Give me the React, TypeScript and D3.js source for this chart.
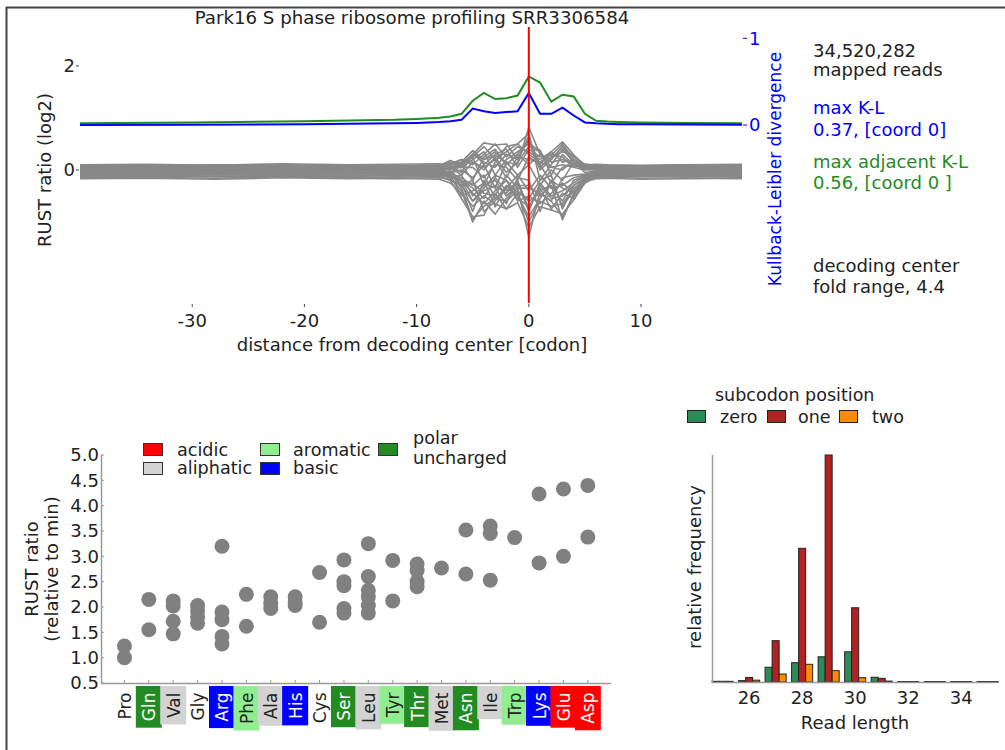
import React, { useMemo } from 'react';
import * as d3 from 'd3';

const FONT = '"DejaVu Sans", "Liberation Sans", sans-serif';
const TXT = '#222222';

// ---------- top panel data ----------
const TITLE = 'Park16 S phase ribosome profiling SRR3306584';
const X_TICKS_TOP = [-30, -20, -10, 0, 10];
const RUST_TICKS = [0, 2];
const KL_TICKS = [0, 1];

const POS = [-40, -34, -28, -22, -16, -12, -8, -7, -6, -5, -4, -3, -2, -1, 0, 1, 2, 3, 4, 5, 6, 7, 10, 14, 19];
const RUST_LINES: number[][] = [
  [0.05, 0.04, 0.06, 0.03, 0.05, 0.04, 0.06, 0.10, 0.15, 0.37, 0.20, 0.28, 0.15, 0.10, 0.82, 0.30, 0.20, 0.45, 0.25, 0.10, 0.06, 0.05, 0.04, 0.05, 0.04],
  [-0.02, -0.03, -0.01, -0.02, -0.04, -0.03, -0.05, -0.15, -0.40, -1.00, -0.60, -0.85, -0.55, -0.35, -1.29, -0.40, -0.30, -0.96, -0.45, -0.20, -0.08, -0.04, -0.03, -0.05, -0.04],
  [0.08, 0.09, 0.07, 0.10, 0.08, 0.07, 0.10, 0.05, 0.12, 0.30, 0.52, 0.48, 0.50, 0.20, 0.60, 0.10, 0.35, 0.54, 0.29, 0.08, 0.05, 0.07, 0.08, 0.06, 0.07],
  [-0.10, -0.12, -0.09, -0.11, -0.13, -0.10, -0.12, -0.20, -0.55, -0.90, -0.87, -0.45, -0.75, -0.63, -1.10, -0.71, -0.77, -0.85, -0.58, -0.25, -0.12, -0.10, -0.11, -0.12, -0.10],
  [0.00, 0.01, -0.01, 0.02, 0.00, 0.01, 0.02, -0.05, 0.10, 0.25, -0.30, 0.15, 0.45, 0.50, 0.70, -0.20, 0.10, 0.40, 0.15, 0.05, 0.02, 0.01, 0.00, 0.01, 0.02],
  [-0.05, -0.06, -0.04, -0.05, -0.07, -0.06, -0.04, -0.10, -0.25, -0.80, -0.20, -0.71, -0.30, -0.50, -0.90, -0.55, -0.20, -0.70, -0.40, -0.15, -0.07, -0.05, -0.06, -0.05, -0.06],
  [0.03, 0.02, 0.04, 0.03, 0.02, 0.03, 0.04, 0.08, 0.05, 0.20, 0.35, -0.10, 0.20, 0.35, 0.50, 0.38, -0.10, 0.30, 0.10, 0.03, 0.02, 0.03, 0.04, 0.02, 0.03],
  [-0.15, -0.14, -0.16, -0.13, -0.15, -0.17, -0.15, -0.18, -0.30, -0.60, -0.40, -0.30, -0.45, -0.20, -0.75, -0.30, -0.55, -0.50, -0.30, -0.18, -0.15, -0.14, -0.16, -0.15, -0.17],
  [0.06, 0.05, 0.07, 0.06, 0.04, 0.05, 0.07, 0.12, 0.20, 0.10, 0.30, 0.50, 0.25, 0.45, 0.35, 0.20, 0.35, 0.15, 0.20, 0.08, 0.06, 0.05, 0.07, 0.08, 0.06],
  [-0.07, -0.08, -0.06, -0.09, -0.07, -0.08, -0.06, -0.12, -0.20, -0.45, -0.65, -0.40, -0.20, -0.60, -0.50, -0.65, -0.45, -0.25, -0.45, -0.22, -0.09, -0.08, -0.07, -0.09, -0.08],
  [0.02, 0.03, 0.01, 0.02, 0.04, 0.02, 0.03, 0.00, 0.15, 0.37, 0.10, 0.30, 0.40, 0.05, 0.40, 0.25, 0.28, 0.50, 0.20, 0.06, 0.03, 0.02, 0.03, 0.02, 0.01],
  [-0.12, -0.11, -0.13, -0.12, -0.10, -0.12, -0.11, -0.05, -0.35, -0.95, -0.70, -0.55, -0.60, -0.40, -0.60, -0.45, -0.60, -0.90, -0.50, -0.20, -0.11, -0.12, -0.13, -0.11, -0.12],
  [0.01, 0.00, 0.02, 0.01, 0.00, -0.01, 0.01, 0.05, -0.10, 0.15, 0.05, 0.20, -0.15, 0.25, 0.20, 0.15, 0.05, 0.10, 0.05, 0.00, 0.01, 0.00, 0.01, 0.02, 0.00],
  [-0.03, -0.04, -0.02, -0.03, -0.05, -0.04, -0.03, -0.08, -0.15, -0.30, -0.10, -0.55, -0.35, -0.10, -0.40, -0.10, -0.35, -0.30, -0.15, -0.10, -0.04, -0.03, -0.04, -0.05, -0.03],
  [0.09, 0.08, 0.10, 0.09, 0.07, 0.08, 0.09, 0.15, 0.05, 0.30, 0.15, 0.05, 0.30, 0.20, 0.65, 0.05, 0.25, 0.35, 0.27, 0.10, 0.08, 0.09, 0.08, 0.10, 0.09],
  [-0.17, -0.16, -0.18, -0.15, -0.17, -0.16, -0.18, -0.25, -0.45, -0.70, -0.50, -0.65, -0.75, -0.45, -1.00, -0.60, -0.70, -0.65, -0.35, -0.22, -0.17, -0.16, -0.18, -0.17, -0.16],
  [0.04, 0.05, 0.03, 0.04, 0.06, 0.05, 0.04, 0.02, 0.10, -0.20, 0.25, 0.40, 0.10, 0.30, 0.10, 0.30, 0.15, 0.20, 0.10, 0.05, 0.04, 0.05, 0.04, 0.03, 0.05],
  [-0.09, -0.10, -0.08, -0.09, -0.11, -0.09, -0.10, -0.15, -0.10, -0.50, -0.30, -0.20, -0.50, -0.30, -0.30, -0.50, -0.30, -0.60, -0.20, -0.12, -0.10, -0.09, -0.10, -0.11, -0.09],
  [0.00, -0.01, 0.01, 0.00, -0.02, 0.00, -0.01, 0.03, 0.05, 0.05, -0.15, 0.10, 0.05, -0.20, 0.25, 0.10, -0.25, 0.05, 0.10, 0.02, 0.00, -0.01, 0.00, -0.01, 0.01],
  [-0.06, -0.05, -0.07, -0.06, -0.04, -0.05, -0.07, -0.12, -0.20, -0.35, -0.55, -0.15, -0.40, -0.25, -0.80, -0.25, -0.50, -0.40, -0.25, -0.12, -0.06, -0.05, -0.06, -0.07, -0.05],
  [0.07, 0.06, 0.08, 0.05, 0.07, 0.06, 0.08, 0.18, 0.10, 0.25, 0.45, 0.20, 0.35, 0.50, 0.30, 0.15, 0.30, 0.25, 0.05, 0.12, 0.07, 0.06, 0.08, 0.07, 0.06],
  [-0.13, -0.14, -0.12, -0.13, -0.15, -0.14, -0.13, -0.20, -0.30, -0.20, -0.80, -0.60, -0.30, -0.55, -0.70, -0.35, -0.75, -0.45, -0.55, -0.25, -0.13, -0.14, -0.12, -0.13, -0.14],
  [-0.01, -0.02, 0.00, -0.01, -0.03, -0.02, -0.02, -0.06, 0.00, -0.15, 0.10, -0.35, 0.15, -0.10, 0.10, -0.30, 0.00, -0.20, 0.15, -0.05, -0.02, -0.01, -0.02, -0.03, -0.01],
  [-0.04, -0.03, -0.05, -0.04, -0.02, -0.03, -0.05, -0.02, -0.20, -0.60, -0.35, -0.10, -0.20, -0.45, -0.55, -0.20, -0.10, -0.75, -0.30, -0.15, -0.05, -0.04, -0.05, -0.04, -0.03],
  [0.05, 0.06, 0.04, 0.05, 0.03, 0.04, 0.05, 0.10, 0.20, 0.15, 0.00, 0.25, -0.05, 0.15, 0.45, 0.35, 0.05, 0.00, 0.20, 0.07, 0.05, 0.04, 0.05, 0.06, 0.04],
  [-0.08, -0.07, -0.09, -0.08, -0.06, -0.07, -0.09, -0.10, -0.50, -0.40, -0.25, -0.35, -0.65, -0.15, -0.20, -0.80, -0.20, -0.35, -0.45, -0.18, -0.08, -0.07, -0.08, -0.09, -0.07],
  [0.10, 0.11, 0.09, 0.12, 0.10, 0.11, 0.12, 0.08, -0.05, 0.30, 0.20, 0.35, 0.10, 0.30, 0.55, 0.00, 0.20, 0.45, 0.15, 0.10, 0.11, 0.10, 0.09, 0.10, 0.11],
  [-0.02, 0.00, -0.03, -0.01, -0.02, 0.00, -0.03, -0.08, -0.30, -0.25, -0.45, -0.50, -0.10, -0.35, -0.35, -0.45, -0.60, -0.15, -0.10, -0.08, -0.03, -0.02, -0.01, -0.02, -0.03],
];

const KL_POS = [-40, -30, -20, -12, -10, -8, -7, -6, -5, -4, -3, -2, -1, 0, 1, 2, 3, 4, 5, 6, 7, 8, 10, 14, 19];
const KL_MAX = [0.0, 0.005, 0.01, 0.02, 0.025, 0.035, 0.045, 0.06, 0.19, 0.16, 0.14, 0.15, 0.16, 0.37, 0.13, 0.13, 0.20, 0.11, 0.03, 0.02, 0.015, 0.01, 0.01, 0.008, 0.005];
const KL_ADJ = [0.02, 0.03, 0.045, 0.06, 0.07, 0.085, 0.10, 0.13, 0.28, 0.37, 0.30, 0.31, 0.34, 0.56, 0.49, 0.27, 0.35, 0.33, 0.13, 0.05, 0.04, 0.035, 0.03, 0.025, 0.02];

// ---------- amino acid panel data ----------
const AMINO = ['Pro', 'Gln', 'Val', 'Gly', 'Arg', 'Phe', 'Ala', 'His', 'Cys', 'Ser', 'Leu', 'Tyr', 'Thr', 'Met', 'Asn', 'Ile', 'Trp', 'Lys', 'Glu', 'Asp'];
const AA_CLASS = ['none', 'polar', 'aliphatic', 'none', 'basic', 'aromatic', 'aliphatic', 'basic', 'none', 'polar', 'aliphatic', 'aromatic', 'polar', 'aliphatic', 'polar', 'aliphatic', 'aromatic', 'basic', 'acidic', 'acidic'];
const AA_VALUES: number[][] = [
  [1.23, 1.0],
  [2.15, 1.55],
  [2.12, 2.02, 1.72, 1.47],
  [2.03, 1.92, 1.8, 1.68],
  [3.2, 1.9, 1.75, 1.42, 1.27],
  [2.25, 1.62],
  [2.2, 2.07, 1.97],
  [2.2, 2.1, 2.03],
  [2.68, 1.7],
  [2.93, 2.5, 2.42, 1.97, 1.88],
  [3.25, 2.6, 2.33, 2.2, 2.03, 1.88],
  [2.92, 2.12],
  [2.85, 2.72, 2.5, 2.4],
  [2.77],
  [3.52, 2.65],
  [3.6, 3.45, 2.53],
  [3.37],
  [4.23, 2.87],
  [4.33, 3.0],
  [4.4, 3.38],
];
const AA_TICKS = [0.5, 1.0, 1.5, 2.0, 2.5, 3.0, 3.5, 4.0, 4.5, 5.0];
const CLASS_COLOR: Record<string, string> = {
  acidic: '#FF0000',
  aliphatic: '#D3D3D3',
  aromatic: '#90EE90',
  basic: '#0000FF',
  polar: '#228B22',
  none: 'none',
};
const CLASS_TEXT: Record<string, string> = {
  acidic: '#FFFFFF', aliphatic: TXT, aromatic: TXT, basic: '#FFFFFF', polar: '#FFFFFF', none: TXT,
};

// ---------- read length panel data ----------
const READ_LEN = [25, 26, 27, 28, 29, 30, 31, 32, 33, 34, 35];
const FRAME_ZERO = [0.003, 0.006, 0.065, 0.085, 0.111, 0.133, 0.021, 0.002, 0.002, 0.002, 0.002];
const FRAME_ONE = [0.003, 0.02, 0.182, 0.589, 1.0, 0.327, 0.016, 0.002, 0.002, 0.002, 0.002];
const FRAME_TWO = [0.003, 0.008, 0.035, 0.078, 0.05, 0.019, 0.004, 0.002, 0.002, 0.002, 0.002];
const LEN_TICKS = [26, 28, 30, 32, 34];
const FRAME_NAMES = ['zero', 'one', 'two'];
const FRAME_COLORS = ['#2E8B57', '#B22222', '#FF8C00'];

function useMeasure() {
  return useMemo(() => {
    const ctx = document.createElement('canvas').getContext('2d');
    return (t: string, size: number) => {
      if (!ctx) return t.length * size * 0.6;
      ctx.font = `${size}px "DejaVu Sans"`;
      return ctx.measureText(t).width;
    };
  }, []);
}

export default function App() {
  const measure = useMeasure();

  // top panel scales
  const xTop = d3.scaleLinear().domain([-40, 19]).range([80, 742]);
  const yRust = d3.scaleLinear().domain([-2.56, 2.75]).range([303, 27]);
  const yKL = d3.scaleLinear().domain([-2.05, 1.13]).range([303, 27]);
  const rustLine = d3.line<number>().x((_, i) => xTop(POS[i])).y((d) => yRust(d));
  const klLine = d3.line<number>().x((_, i) => xTop(KL_POS[i])).y((d) => yKL(d));

  // scatter scales
  const xS = d3.scaleLinear().domain([-0.92, 19.95]).range([102, 611]);
  const yS = d3.scaleLinear().domain([0.5, 5.0]).range([683, 455]);

  // histogram scales
  const xH = d3.scaleLinear().domain([24.6, 35.35]).range([712, 997]);
  const yH = d3.scaleLinear().domain([0, 1]).range([682, 455]);
  const frames = [FRAME_ZERO, FRAME_ONE, FRAME_TWO];
  const bw = 0.265;

  const fs = 18;
  const lfs = 17;

  return (
    <svg width={1005} height={750} style={{ position: 'absolute', left: 0, top: 0, background: '#fff' }} fontFamily={FONT}>
      <rect x={0} y={0} width={1005} height={750} fill="#fff" />
      {/* frame */}
      <line x1={6} y1={7.5} x2={1005} y2={7.5} stroke="#444" strokeWidth={2} />
      <line x1={6.5} y1={7} x2={6.5} y2={750} stroke="#444" strokeWidth={2} />

      {/* ===== top panel ===== */}
      <text x={412} y={24} textAnchor="middle" fontSize={18.2} fill={TXT}>{TITLE}</text>
      {RUST_LINES.map((vals, i) => (
        <path key={i} d={rustLine(vals) || ''} fill="none" stroke="#888888" strokeWidth={1.6} strokeLinejoin="round" />
      ))}
      <path d={klLine(KL_ADJ) || ''} fill="none" stroke="#228B22" strokeWidth={2} />
      <path d={klLine(KL_MAX) || ''} fill="none" stroke="#0000FF" strokeWidth={2} />
      <line x1={xTop(0)} x2={xTop(0)} y1={27} y2={303} stroke="#FF0000" strokeWidth={2} />
      {RUST_TICKS.map((t) => (
        <g key={t}>
          <line x1={76} x2={79} y1={yRust(t)} y2={yRust(t)} stroke="#444" strokeWidth={1} />
          <text x={75} y={yRust(t)} dy="0.35em" textAnchor="end" fontSize={fs} fill={TXT}>{t}</text>
        </g>
      ))}
      {KL_TICKS.map((t) => (
        <g key={t}>
          <line x1={743} x2={747} y1={yKL(t)} y2={yKL(t)} stroke="#0000FF" strokeWidth={1} />
          <text x={749} y={yKL(t)} dy="0.35em" textAnchor="start" fontSize={fs} fill="#0000FF">{t}</text>
        </g>
      ))}
      {X_TICKS_TOP.map((t) => (
        <g key={t}>
          <line x1={xTop(t)} x2={xTop(t)} y1={304} y2={307} stroke="#444" strokeWidth={1} />
          <text x={xTop(t)} y={327} textAnchor="middle" fontSize={fs} fill={TXT}>{t < 0 ? `-${-t}` : t}</text>
        </g>
      ))}
      <text x={412} y={351} textAnchor="middle" fontSize={fs} fill={TXT}>distance from decoding center [codon]</text>
      <text transform="translate(51,170) rotate(-90)" textAnchor="middle" fontSize={fs} fill={TXT}>RUST ratio (log2)</text>
      <text transform="translate(781,169) rotate(-90)" textAnchor="middle" fontSize={lfs} fill="#0000FF">Kullback-Leibler divergence</text>

      <g fontSize={fs}>
        <text x={813} y={57} fill={TXT}>34,520,282</text>
        <text x={813} y={76} fill={TXT}>mapped reads</text>
        <text x={813} y={114} fill="#0000FF">max K-L</text>
        <text x={813} y={136} fill="#0000FF">0.37, [coord 0]</text>
        <text x={813} y={168} fill="#228B22">max adjacent K-L</text>
        <text x={813} y={189} fill="#228B22">0.56, [coord 0 ]</text>
        <text x={813} y={272} fill={TXT}>decoding center</text>
        <text x={813} y={293} fill={TXT}>fold range, 4.4</text>
      </g>

      {/* ===== amino acid scatter ===== */}
      <line x1={101.5} x2={101.5} y1={455} y2={683} stroke="#999" strokeWidth={1.5} />
      <line x1={101} x2={611} y1={683.5} y2={683.5} stroke="#999" strokeWidth={1.5} />
      {AA_TICKS.map((t) => (
        <g key={t}>
          <line x1={101} x2={104} y1={yS(t)} y2={yS(t)} stroke="#999" strokeWidth={1} />
          <text x={99} y={yS(t)} dy="0.36em" textAnchor="end" fontSize={fs} fill={TXT}>{t.toFixed(1)}</text>
        </g>
      ))}
      {AA_VALUES.map((vals, i) =>
        vals.map((v, j) => <circle key={`${i}-${j}`} cx={xS(i)} cy={yS(v)} r={7.5} fill="#808080" />)
      )}
      {AMINO.map((a, i) => {
        const cls = AA_CLASS[i];
        const w = measure(a, 17);
        const x = xS(i);
        return (
          <g key={a}>
            <line x1={x} x2={x} y1={680} y2={683} stroke="#999" strokeWidth={1} />
            {cls !== 'none' && (
              <rect x={x - 13} y={686} width={26} height={w + 13} fill={CLASS_COLOR[cls]} />
            )}
            <text transform={`translate(${x + 0.5},${692.5}) rotate(-90)`} textAnchor="end" dominantBaseline="central" fontSize={17} fill={CLASS_TEXT[cls]}>{a}</text>
          </g>
        );
      })}
      <text transform="translate(38,569) rotate(-90)" textAnchor="middle" fontSize={fs} fill={TXT}>RUST ratio</text>
      <text transform="translate(58,569) rotate(-90)" textAnchor="middle" fontSize={fs} fill={TXT}>(relative to min)</text>
      {/* legend */}
      <g fontSize={17.6} fill={TXT}>
        <rect x={143.5} y={443.5} width={19} height={12} fill={CLASS_COLOR.acidic} stroke="#333" />
        <text x={177} y={450} dy="0.36em">acidic</text>
        <rect x={143.5} y={462.5} width={19} height={12} fill={CLASS_COLOR.aliphatic} stroke="#333" />
        <text x={177} y={468} dy="0.36em">aliphatic</text>
        <rect x={260.5} y={443.5} width={19} height={12} fill={CLASS_COLOR.aromatic} stroke="#333" />
        <text x={293} y={450} dy="0.36em">aromatic</text>
        <rect x={260.5} y={462.5} width={19} height={12} fill={CLASS_COLOR.basic} stroke="#333" />
        <text x={293} y={468} dy="0.36em">basic</text>
        <rect x={378.5} y={443.5} width={19} height={12} fill={CLASS_COLOR.polar} stroke="#333" />
        <text x={413} y={438} dy="0.36em">polar</text>
        <text x={413} y={458} dy="0.36em">uncharged</text>
      </g>

      {/* ===== read length histogram ===== */}
      {READ_LEN.map((L, i) =>
        frames.map((arr, f) => {
          const x0 = xH(L + (f - 1) * bw - bw / 2);
          const x1 = xH(L + (f - 1) * bw + bw / 2);
          const y = yH(arr[i]);
          return (
            <rect key={`${L}-${f}`} x={x0} y={y} width={x1 - x0} height={Math.max(0, 682 - y)} fill={FRAME_COLORS[f]} stroke="#222" strokeWidth={1} />
          );
        })
      )}
      <line x1={712.5} x2={712.5} y1={455} y2={682} stroke="#999" strokeWidth={1.5} />
      <line x1={712} x2={998} y1={682.5} y2={682.5} stroke="#999" strokeWidth={1.5} />
      {LEN_TICKS.map((t) => (
        <text key={t} x={xH(t)} y={704} textAnchor="middle" fontSize={fs} fill={TXT}>{t}</text>
      ))}
      <text x={855} y={729} textAnchor="middle" fontSize={fs} fill={TXT}>Read length</text>
      <text transform="translate(701,567) rotate(-90)" textAnchor="middle" fontSize={fs} fill={TXT}>relative frequency</text>
      <text x={715} y={401} fontSize={17.5} fill={TXT}>subcodon position</text>
      {FRAME_NAMES.map((n, f) => {
        const px = [687, 767, 839][f];
        const tx = [720, 798, 872][f];
        return (
          <g key={n}>
            <rect x={px + 0.5} y={410.5} width={18} height={12} fill={FRAME_COLORS[f]} stroke="#222" />
            <text x={tx} y={417} dy="0.36em" fontSize={17.5} fill={TXT}>{n}</text>
          </g>
        );
      })}
    </svg>
  );
}
